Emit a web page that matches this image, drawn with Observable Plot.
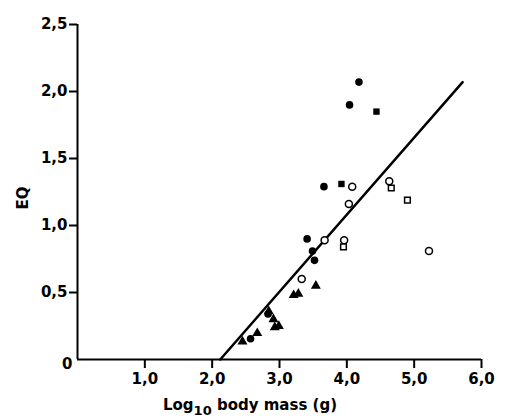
<!DOCTYPE html>
<html><head><meta charset="utf-8">
<script src="https://cdn.jsdelivr.net/npm/d3@7"></script>
<script src="https://cdn.jsdelivr.net/npm/@observablehq/plot@0.6"></script>
<style>
body{margin:0;background:#fff}
svg{font-family:"DejaVu Sans",Verdana,sans-serif;font-weight:bold}
</style>
</head><body><div id="chart"></div>
<script>
// data (log10 body mass, EQ)
const filledCircleX = [4.18, 4.04, 3.66, 3.41, 3.49, 3.52, 2.83, 2.57];
const filledCircleY = [2.07, 1.90, 1.29, 0.90, 0.81, 0.74, 0.34, 0.155];
const filledSquareX = [4.44, 3.92];
const filledSquareY = [1.85, 1.31];
const openCircleX = [4.08, 4.03, 4.63, 3.67, 3.96, 3.33, 5.22];
const openCircleY = [1.29, 1.16, 1.33, 0.89, 0.89, 0.60, 0.81];
const openSquareX = [4.66, 4.90, 3.95];
const openSquareY = [1.28, 1.19, 0.84];
const triangleX = [3.54, 3.21, 3.28, 2.84, 2.91, 2.93, 2.99, 2.45, 2.67];
const triangleY = [0.55, 0.48, 0.49, 0.36, 0.30, 0.24, 0.25, 0.134, 0.196];
const lineX = [2.12, 5.72];
const lineY = [0, 2.07];
const xTicks = [1, 2, 3, 4, 5, 6];
const yTicks = [0.5, 1, 1.5, 2, 2.5];
const originLabel = "0";
const xTitle = ["Log", "10", " body mass (g)"];
const yTitle = "EQ";

const pts = (xs, ys) => xs.map((x, i) => ({x, y: ys[i]}));
const fmt = d => d.toFixed(1).replace(".", ",");
const FONT = '"DejaVu Sans", Verdana, sans-serif';

const plot = Plot.plot({
  width: 505, height: 420,
  marginLeft: 77, marginRight: 24, marginTop: 24, marginBottom: 61,
  style: {fontSize: "15px", fontWeight: "bold", fontFamily: FONT, background: "#fff", color: "#000"},
  x: {domain: [0, 6]},
  y: {domain: [0, 2.5]},
  marks: [
    Plot.ruleY([0], {stroke: "#000", strokeWidth: 2}),
    Plot.ruleX([0], {stroke: "#000", strokeWidth: 2}),
    Plot.axisY({ticks: yTicks, tickSize: 8, tickPadding: 2, strokeWidth: 2, tickFormat: fmt, label: null}),
    Plot.axisX({ticks: xTicks, tickSize: 9, tickPadding: 5, strokeWidth: 2, tickFormat: fmt, label: null}),
    Plot.text([{x: 0, y: 0}], {x: "x", y: "y", text: () => originLabel, textAnchor: "end", dx: -5, dy: 5}),
    Plot.line(pts(lineX, lineY), {x: "x", y: "y", stroke: "#000", strokeWidth: 2.5}),
    Plot.dot(pts(filledCircleX, filledCircleY), {x: "x", y: "y", r: 3.8, fill: "#000", symbol: "circle"}),
    Plot.dot(pts(filledSquareX, filledSquareY), {x: "x", y: "y", r: 3.6, fill: "#000", symbol: "square"}),
    Plot.dot(pts(triangleX, triangleY), {x: "x", y: "y", r: 3.7, fill: "#000", symbol: "triangle"}),
    Plot.dot(pts(openCircleX, openCircleY), {x: "x", y: "y", r: 3.5, fill: "#fff", stroke: "#000", strokeWidth: 1.5, symbol: "circle"}),
    Plot.dot(pts(openSquareX, openSquareY), {x: "x", y: "y", r: 3.2, fill: "#fff", stroke: "#000", strokeWidth: 1.5, symbol: "square"})
  ]
});

const svg = d3.select(plot);
const t = svg.append("text")
  .attr("x", 250).attr("y", 410)
  .attr("text-anchor", "middle")
  .style("font-size", "15px").style("font-weight", "bold").style("font-family", FONT);
t.append("tspan").text(xTitle[0]);
t.append("tspan").attr("dy", 5).style("font-size", "13px").text(xTitle[1]);
t.append("tspan").attr("dy", -5).text(xTitle[2]);
svg.append("text")
  .attr("transform", "translate(28,198) rotate(-90)")
  .attr("text-anchor", "middle")
  .style("font-size", "15px").style("font-weight", "bold").style("font-family", FONT)
  .text(yTitle);

document.getElementById("chart").appendChild(plot);
</script>
</body></html>
